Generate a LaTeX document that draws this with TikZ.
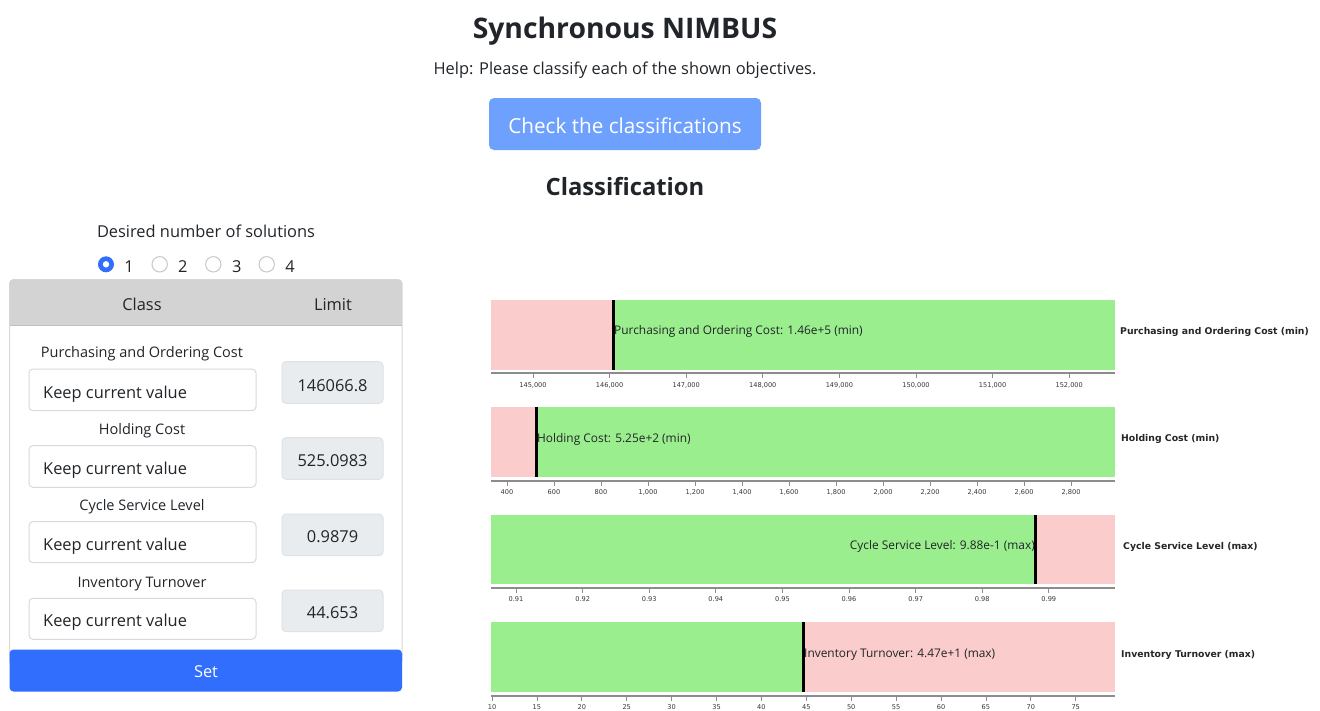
\documentclass[tikz,border=0pt]{standalone}
\usepackage{fontspec}
\setmainfont{Open Sans}
\newfontfamily\chartfont{DejaVu Sans}
\definecolor{txt}{RGB}{33,37,41}
\definecolor{btnlight}{RGB}{110,161,253}
\definecolor{setblue}{RGB}{49,110,253}
\definecolor{hdrgray}{RGB}{211,211,211}
\definecolor{panelline}{RGB}{218,218,218}
\definecolor{inputline}{RGB}{214,218,224}
\definecolor{limitfill}{RGB}{233,236,239}
\definecolor{limitline}{RGB}{222,226,230}
\definecolor{radioline}{RGB}{200,200,200}
\definecolor{barpink}{RGB}{250,204,204}
\definecolor{bargreen}{RGB}{154,238,142}
\definecolor{axisgray}{RGB}{140,140,140}
\definecolor{ticktxt}{RGB}{55,55,55}
\tikzset{
  lbl/.style={inner sep=0pt, anchor=base, text=txt, font=\fontsize{16.4}{19}\selectfont},
  inputbox/.style={draw=inputline, line width=1pt, fill=white, rounded corners=4pt},
  limitbox/.style={draw=limitline, line width=1pt, fill=limitfill, rounded corners=4pt},
  radiooff/.style={draw=radioline, line width=1pt, fill=white},
  marker/.style={black, line width=3pt},
  axisline/.style={axisgray, line width=1.8pt},
  tickmark/.style={axisgray, line width=0.8pt},
  ticklbl/.style={inner sep=0pt, anchor=base, text=ticktxt, font=\chartfont\fontsize{6.6}{8}\selectfont},
  barlbl/.style={inner sep=0pt, text=txt, font=\fontsize{11.9}{14}\selectfont},
  sidelbl/.style={inner sep=0pt, anchor=west, text=black!85, font=\chartfont\bfseries\fontsize{9.3}{11}\selectfont},
}
\begin{document}
\begin{tikzpicture}[x=1pt,y=-1pt]
\useasboundingbox (0,0) rectangle (1320,710);
\fill[white] (0,0) rectangle (1320,710);

% ---------- header ----------
\node[lbl, font=\fontsize{28.3}{32}\selectfont\bfseries] (title) at (625,38) {Synchronous NIMBUS};
\node[lbl] (help) at (625,74) {Help: Please classify each of the shown objectives.};
\fill[btnlight, rounded corners=5pt] (489,98) rectangle (761,150);
\node[lbl, text=white, font=\fontsize{20.7}{24}\selectfont] (check) at (625,133) {Check the classifications};
\node[lbl, font=\fontsize{23.8}{28}\selectfont\bfseries] (classif) at (625,195) {Classification};

% ---------- left panel ----------
\node[lbl] (desired) at (206,237) {Desired number of solutions};
\fill[setblue] (106,264.3) circle (8);
\fill[white] (106,264.3) circle (3.2);
\draw[radiooff] (159.7,264.3) circle (7.7);
\draw[radiooff] (213.3,264.3) circle (7.7);
\draw[radiooff] (266.7,264.3) circle (7.7);
\node[lbl] (r1) at (129,272) {1};
\node[lbl] (r2) at (182.7,272) {2};
\node[lbl] (r3) at (236.7,272) {3};
\node[lbl] (r4) at (290,272) {4};

\draw[panelline, line width=1pt, fill=white, rounded corners=4pt] (9.5,279.5) rectangle (402,665);
\fill[hdrgray] (9.5,325.7) [rounded corners=4pt]-- (9.5,279.5) -- (402,279.5) [sharp corners]-- (402,325.7) -- cycle;
\draw[black!25, line width=0.8pt] (9.5,325.7) -- (402,325.7);
\node[lbl] (hclass) at (142,310) {Class};
\node[lbl] (hlimit) at (333,310) {Limit};

% row 1
\node[lbl, font=\fontsize{14.5}{17}\selectfont] (l1) at (142,357) {Purchasing and Ordering Cost};
\draw[inputbox] (29,369) rectangle (256,410.7);
\node[lbl, anchor=base west] (k1) at (43,398) {Keep current value};
\draw[limitbox] (282,361.7) rectangle (383,403.3);
\node[lbl] (v1) at (332.5,391) {146066.8};
% row 2
\node[lbl, font=\fontsize{14.5}{17}\selectfont] (l2) at (142,434) {Holding Cost};
\draw[inputbox] (29,445.7) rectangle (256,487.3);
\node[lbl, anchor=base west] (k2) at (43,474.3) {Keep current value};
\draw[limitbox] (282,437.7) rectangle (383,479.3);
\node[lbl] (v2) at (332.5,466.7) {525.0983};
% row 3
\node[lbl, font=\fontsize{14.5}{17}\selectfont] (l3) at (142,510) {Cycle Service Level};
\draw[inputbox] (29,521.7) rectangle (256,562.7);
\node[lbl, anchor=base west] (k3) at (43,550) {Keep current value};
\draw[limitbox] (282,514) rectangle (383,555.7);
\node[lbl] (v3) at (332.5,542.7) {0.9879};
% row 4
\node[lbl, font=\fontsize{14.5}{17}\selectfont] (l4) at (142,587.3) {Inventory Turnover};
\draw[inputbox] (29,598.3) rectangle (256,639.3);
\node[lbl, anchor=base west] (k4) at (43,626) {Keep current value};
\draw[limitbox] (282,590) rectangle (383,631.7);
\node[lbl] (v4) at (332.5,618.3) {44.653};

\fill[setblue, rounded corners=4pt] (9.5,649.5) rectangle (402,691.5);
\node[lbl, text=white] (set) at (206,677.7) {Set};

% ---------- chart 1 ----------
\fill[barpink] (491,300) rectangle (613,370);
\fill[bargreen] (613,300) rectangle (1115,370);
\draw[marker] (613,300) -- (613,370);
\node[barlbl, anchor=west] (c1) at (614,331.5) {Purchasing and Ordering Cost: 1.46e+5 (min)};
\node[sidelbl] (s1) at (1120,331.5) {Purchasing and Ordering Cost (min)};
\draw[axisline] (491,373) -- (1115,373);
\foreach \x/\l [count=\i] in {533/{145,000},609.6/{146,000},686.2/{147,000},762.8/{148,000},839.4/{149,000},916/{150,000},992.6/{151,000},1069.2/{152,000}}{
  \draw[tickmark] (\x,373) -- (\x,378);
  \node[ticklbl] (ta\i) at (\x,387) {\l};
}

% ---------- chart 2 ----------
\fill[barpink] (491,407) rectangle (536,477);
\fill[bargreen] (536,407) rectangle (1115,477);
\draw[marker] (536,407) -- (536,477);
\node[barlbl, anchor=west] (c2) at (537,439.5) {Holding Cost: 5.25e+2 (min)};
\node[sidelbl] (s2) at (1121,438.5) {Holding Cost (min)};
\draw[axisline] (491,481) -- (1115,481);
\foreach \x/\l [count=\i] in {507/400,554/600,601/800,648/{1,000},695/{1,200},742/{1,400},789/{1,600},836/{1,800},883/{2,000},930/{2,200},977/{2,400},1024/{2,600},1071/{2,800}}{
  \draw[tickmark] (\x,481) -- (\x,486);
  \node[ticklbl] (tb\i) at (\x,494) {\l};
}

% ---------- chart 3 ----------
\fill[bargreen] (491,515) rectangle (1035,584);
\fill[barpink] (1035,515) rectangle (1115,584);
\draw[marker] (1035,515) -- (1035,584);
\node[barlbl, anchor=east] (c3) at (1035,546.5) {Cycle Service Level: 9.88e-1 (max)};
\node[sidelbl] (s3) at (1123,546.5) {Cycle Service Level (max)};
\draw[axisline] (491,588) -- (1115,588);
\foreach \x/\l [count=\i] in {516/0.91,582.6/0.92,649.2/0.93,715.8/0.94,782.4/0.95,849/0.96,915.6/0.97,982.2/0.98,1048.8/0.99}{
  \draw[tickmark] (\x,588) -- (\x,593);
  \node[ticklbl] (tc\i) at (\x,601) {\l};
}

% ---------- chart 4 ----------
\fill[bargreen] (491,622) rectangle (803,692);
\fill[barpink] (803,622) rectangle (1115,692);
\draw[marker] (803,622) -- (803,692);
\node[barlbl, anchor=west] (c4) at (804,654.5) {Inventory Turnover: 4.47e+1 (max)};
\node[sidelbl] (s4) at (1121,654.5) {Inventory Turnover (max)};
\draw[axisline] (491,696) -- (1115,696);
\foreach \x/\l [count=\i] in {492/10,536.9/15,581.8/20,626.7/25,671.6/30,716.5/35,761.4/40,806.3/45,851.2/50,896.1/55,941/60,985.9/65,1030.8/70,1075.7/75}{
  \draw[tickmark] (\x,696) -- (\x,701);
  \node[ticklbl] (td\i) at (\x,709) {\l};
}
\end{tikzpicture}
\end{document}
